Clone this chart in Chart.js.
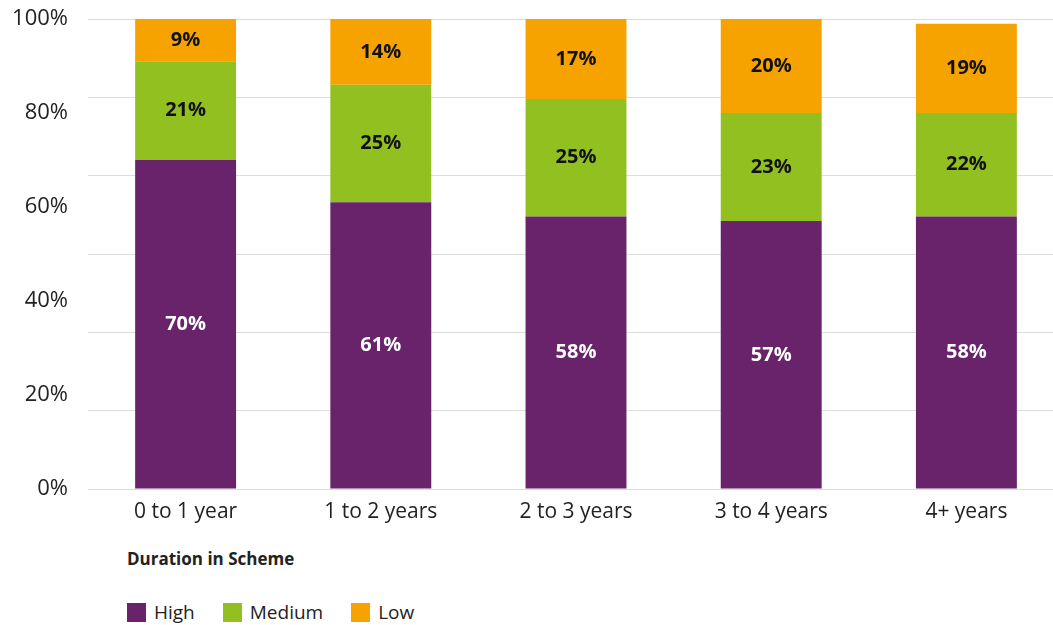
<!DOCTYPE html>
<html>
<head>
<meta charset="utf-8">
<script src="https://cdn.jsdelivr.net/npm/chart.js@4"></script>
<style>
  html, body { margin: 0; padding: 0; background: #fff; overflow: hidden; width: 1053px; height: 625px; }
  body { font-family: "Open Sans", sans-serif; color: #222; }
  #wrap { position: absolute; left: 0; top: 0; width: 1064px; height: 536px; }
  #legendTitle { position: absolute; left: 127px; top: 547px; font-size: 17px; font-weight: bold; color: #222; }
  #legend { position: absolute; left: 127px; top: 599px; display: flex; font-size: 19px; color: #222; }
  .item { display: flex; align-items: center; margin-right: 28px; }
  .box { width: 19px; height: 19px; margin-right: 8px; }
</style>
</head>
<body>
<div id="wrap"><canvas id="chart"></canvas></div>
<div id="legendTitle">Duration in Scheme</div>
<div id="legend"></div>
<script>
// Categories and series (% of group)
const categories = ['0 to 1 year', '1 to 2 years', '2 to 3 years', '3 to 4 years', '4+ years'];
const highData = [70, 61, 58, 57, 58];
const mediumData = [21, 25, 25, 23, 22];
const lowData = [9, 14, 17, 20, 19];
const yTicks = [0, 20, 40, 60, 80, 100];

const seriesNames = ['High', 'Medium', 'Low'];
const seriesColors = ['#68236B', '#93C021', '#F6A300'];
const labelColors = ['#ffffff', '#111111', '#111111'];

// draws the % value in the middle of each segment
const segmentLabels = {
    id: 'segmentLabels',
    afterDatasetsDraw(chart) {
        const ctx = chart.ctx;
        ctx.save();
        ctx.font = 'bold 20px "Open Sans", sans-serif';
        ctx.textAlign = 'center';
        ctx.textBaseline = 'middle';
        chart.data.datasets.forEach((ds, i) => {
            chart.getDatasetMeta(i).data.forEach((bar, j) => {
                const p = bar.getProps(['x', 'y', 'base'], true);
                ctx.fillStyle = labelColors[i];
                ctx.fillText(ds.data[j] + '%', p.x, (p.y + p.base) / 2);
            });
        });
        ctx.restore();
    }
};

const ctx = document.getElementById('chart').getContext('2d');
const chart = new Chart(ctx, {
    type: 'bar',
    data: {
        labels: categories,
        datasets: [
            { label: seriesNames[0], data: highData, backgroundColor: seriesColors[0] },
            { label: seriesNames[1], data: mediumData, backgroundColor: seriesColors[1] },
            { label: seriesNames[2], data: lowData, backgroundColor: seriesColors[2] }
        ]
    },
    options: {
        responsive: true,
        maintainAspectRatio: false,
        animation: false,
        datasets: {
            bar: {
                categoryPercentage: 1,
                barPercentage: 0.517,
                borderWidth: 0
            }
        },
        layout: { padding: { top: 19, bottom: 0, left: 0, right: 0 } },
        scales: {
            x: {
                stacked: true,
                grid: { display: false, drawTicks: false },
                border: { display: false },
                ticks: {
                    color: '#222',
                    padding: 10,
                    font: { family: '"Open Sans", sans-serif', size: 21 }
                },
                afterFit(scale) { scale.height = 47; }
            },
            // gridline axis (six equal bands, as in the original)
            y: {
                stacked: true,
                position: 'right',
                min: 0,
                max: 100,
                grid: { color: '#dddddd', drawTicks: false },
                border: { display: false },
                ticks: { display: false, count: 7 },
                afterFit(scale) { scale.width = 0; scale.paddingTop = 0; scale.paddingBottom = 0; }
            },
            // label axis
            yLabels: {
                position: 'left',
                min: 0,
                max: 100,
                grid: { display: false, drawTicks: false },
                border: { display: false },
                afterBuildTicks(scale) { scale.ticks = yTicks.map(v => ({ value: v })); },
                ticks: {
                    color: '#222',
                    padding: 20,
                    font: { family: '"Open Sans", sans-serif', size: 22 },
                    callback: v => v + '%'
                },
                afterFit(scale) { scale.width = 88; scale.paddingTop = 0; scale.paddingBottom = 0; }
            }
        },
        plugins: {
            legend: { display: false },
            tooltip: { enabled: false }
        }
    },
    plugins: [segmentLabels]
});

// HTML legend
const legendEl = document.getElementById('legend');
seriesNames.forEach((name, i) => {
    const item = document.createElement('div');
    item.className = 'item';
    item.innerHTML = '<span class="box" style="background:' + seriesColors[i] + '"></span>' + name;
    legendEl.appendChild(item);
});
</script>
</body>
</html>
